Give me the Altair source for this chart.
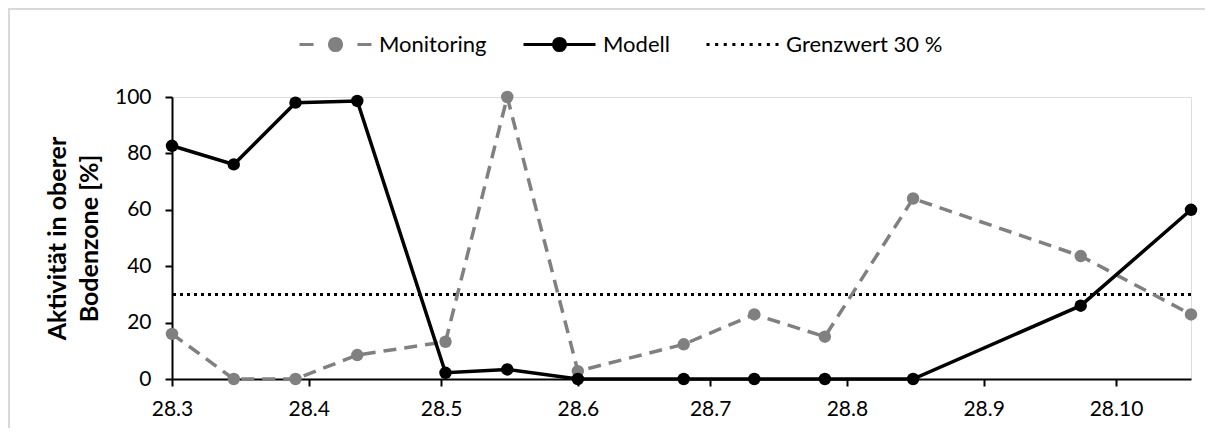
import altair as alt
import pandas as pd

# ---- data ----
dates = ["2019-03-28", "2019-04-11", "2019-04-25", "2019-05-09", "2019-05-29",
         "2019-06-12", "2019-06-28", "2019-07-22", "2019-08-07", "2019-08-23",
         "2019-09-12", "2019-10-20", "2019-11-14"]
monitoring = [16, 0, 0, 8.5, 13.2, 100, 2.8, 12.3, 22.9, 15, 64, 43.6, 22.9]
modell = [82.7, 76.1, 98, 98.6, 2.2, 3.4, 0, 0, 0, 0, 0, 26, 60]
grenzwert = 30

series_names = ["Monitoring", "Modell", "Grenzwert 30 %"]
series_colors = ["#808080", "#000000", "#000000"]
series_dashes = [[13, 8], [1, 0], [3, 4]]

x_tick_dates = ["2019-03-28", "2019-04-28", "2019-05-28", "2019-06-28",
                "2019-07-28", "2019-08-28", "2019-09-28", "2019-10-28"]
y_ticks = [0, 20, 40, 60, 80, 100]
y_title = ["Aktivität in oberer", "Bodenzone [%]"]


def dt(s):
    y, m, d = (int(v) for v in s.split("-"))
    return alt.DateTime(year=y, month=m, date=d)


iso_dates = [d + "T00:00:00" for d in dates]
mon_df = pd.DataFrame({"date": iso_dates, "value": monitoring})
mod_df = pd.DataFrame({"date": iso_dates, "value": modell})
rule_df = pd.DataFrame({"value": [grenzwert]})

FONT = "Lato"

# legend symbol paths (unit box -1..1), drawn as line + marker
circle = "M0.17,0A0.17,0.17,0,1,1,-0.17,0A0.17,0.17,0,1,1,0.17,0"
mon_path = "M-1,0L-0.61,0M0.61,0L1,0" + circle
mod_path = "M-1,0L1,0" + circle
dots = []
for k in range(9):
    p = -1.0 + k * 0.2395
    dots.append("M%.3f,0L%.3f,0" % (p, min(p + 0.085, 1.0)))
dot_path = "".join(dots)
legend_shapes = [mon_path, mod_path, dot_path]

legend = alt.Legend(
    title=None,
    orient="none",
    legendX=126,
    legendY=-90,
    direction="horizontal",
    padding=0,
    gridAlign="none",
    columnPadding=30,
    labelOffset=6,
    labelFont=FONT,
    labelFontSize=22,
    labelColor="black",
    symbolSize=5184,
    symbolStrokeWidth=3,
    symbolOpacity=1,
)

x_enc = alt.X(
    "date:T",
    scale=alt.Scale(domain=[dt(dates[0]), dt(dates[-1])]),
    axis=alt.Axis(
        values=[dt(d) for d in x_tick_dates],
        format="%-d.%-m",
        title=None,
        grid=False,
        tickSize=7,
        tickWidth=2,
        tickColor="black",
        domainColor="black",
        domainWidth=2,
        labelFont=FONT,
        labelFontSize=21,
        labelColor="black",
        labelPadding=12,
        labelFlush=False,
        labelOverlap=False,
    ),
)
y_enc = alt.Y(
    "value:Q",
    scale=alt.Scale(domain=[0, 100], nice=False),
    axis=alt.Axis(
        values=y_ticks,
        title=y_title,
        titleFont=FONT,
        titleFontSize=25,
        titleFontWeight="bold",
        titleColor="black",
        titleLineHeight=32,
        titlePadding=12,
        grid=False,
        tickSize=7,
        tickWidth=2,
        tickColor="black",
        domainColor="black",
        domainWidth=2,
        labelFont=FONT,
        labelFontSize=21,
        labelColor="black",
        labelPadding=14,
    ),
)

border = alt.Chart(pd.DataFrame({"a": [0]})).mark_rect(
    fill="transparent", stroke="#d9d9d9", strokeWidth=2
).encode(x=alt.value(-163), x2=alt.value(1040), y=alt.value(-88), y2=alt.value(340))

rule = alt.Chart(rule_df).mark_rule(
    strokeWidth=3, color=series_colors[2], strokeDash=series_dashes[2]
).encode(y=alt.Y("value:Q", scale=alt.Scale(domain=[0, 100], nice=False)))

line_mon = alt.Chart(mon_df).mark_line(
    strokeWidth=3.5, color=series_colors[0], strokeDash=series_dashes[0]
).encode(x=x_enc, y=y_enc)
pts_mon = alt.Chart(mon_df).mark_circle(size=155, opacity=1, color=series_colors[0]).encode(x=x_enc, y=y_enc)
line_mod = alt.Chart(mod_df).mark_line(strokeWidth=3.5, color=series_colors[1]).encode(x=x_enc, y=y_enc)
pts_mod = alt.Chart(mod_df).mark_circle(size=155, opacity=1, color=series_colors[1]).encode(x=x_enc, y=y_enc)

# legend-only layer (its own marks are fully transparent)
legend_layer = alt.Chart(pd.DataFrame({"series": series_names})).mark_point(
    filled=True, opacity=0, strokeWidth=3, size=1
).encode(
    fill=alt.Fill("series:N", scale=alt.Scale(domain=series_names, range=series_colors), legend=legend),
    stroke=alt.Stroke("series:N", scale=alt.Scale(domain=series_names, range=series_colors), legend=legend),
    shape=alt.Shape("series:N", scale=alt.Scale(domain=series_names, range=legend_shapes), legend=legend),
)

chart = alt.layer(border, rule, line_mon, pts_mon, line_mod, pts_mod, legend_layer).properties(
    width=1019,
    height=282,
    autosize=alt.AutoSizeParams(type="none"),
    padding={"left": 164, "top": 89, "right": 14, "bottom": 49},
).configure_view(stroke="black", strokeWidth=2).configure(background="white")

chart.save("out.html", embed_options={"renderer": "svg", "actions": False})
